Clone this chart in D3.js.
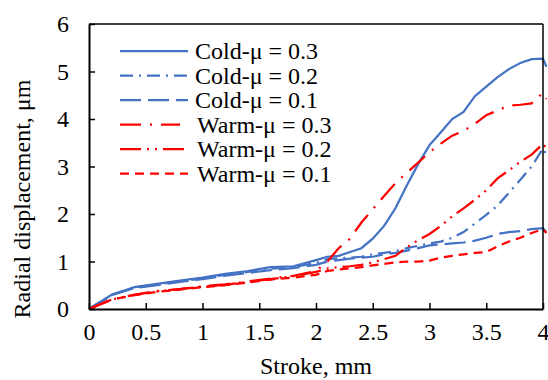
<!DOCTYPE html>
<html lang="en">
<head>
<meta charset="UTF-8">
<script src="https://d3js.org/d3.v7.min.js"></script>
<title>Radial displacement</title>
<style>
  body { margin: 0; background: #fff; }
  text { font-family: "Liberation Serif", "Times New Roman", serif; fill: #000; }
</style>
</head>
<body>
<svg id="chart" width="548" height="380"></svg>
<script>
// stroke positions (mm), shared by all series
var strokes = [0, 0.2, 0.4, 0.6, 0.8, 1.0, 1.2, 1.4, 1.6, 1.8, 2.0,
  2.1, 2.2, 2.3, 2.4, 2.5, 2.6, 2.7, 2.8, 2.9, 3.0,
  3.1, 3.2, 3.3, 3.4, 3.5, 3.6, 3.7, 3.8, 3.9, 4.0, 4.03];

// radial displacement (µm)
var cold03 = [0, 0.3, 0.46, 0.53, 0.6, 0.66, 0.74, 0.8, 0.88, 0.9, 1.03,
  1.1, 1.12, 1.2, 1.28, 1.48, 1.75, 2.12, 2.6, 3.05, 3.45,
  3.72, 4.0, 4.15, 4.48, 4.68, 4.88, 5.05, 5.18, 5.26, 5.27, 5.1];
var cold02 = [0, 0.3, 0.45, 0.52, 0.58, 0.64, 0.72, 0.78, 0.85, 0.88, 0.97,
  1.05, 1.07, 1.08, 1.1, 1.15, 1.18, 1.22, 1.28, 1.33, 1.38,
  1.42, 1.5, 1.62, 1.8, 1.98, 2.18, 2.45, 2.72, 3.0, 3.38, 3.25];
var cold01 = [0, 0.29, 0.44, 0.5, 0.57, 0.63, 0.7, 0.76, 0.82, 0.86, 0.93,
  1.0, 1.03, 1.06, 1.08, 1.1, 1.15, 1.18, 1.23, 1.28, 1.34,
  1.36, 1.38, 1.4, 1.44, 1.5, 1.58, 1.62, 1.64, 1.68, 1.7, 1.62];
var warm03 = [0, 0.2, 0.3, 0.38, 0.42, 0.48, 0.52, 0.58, 0.64, 0.7, 0.8,
  1.0, 1.28, 1.48, 1.82, 2.1, 2.38, 2.65, 2.87, 3.08, 3.3,
  3.48, 3.65, 3.75, 3.9, 4.08, 4.18, 4.28, 4.3, 4.33, 4.55, 4.42];
var warm02 = [0, 0.2, 0.3, 0.37, 0.42, 0.47, 0.51, 0.57, 0.63, 0.69, 0.78,
  0.85, 0.88, 0.9, 0.93, 0.98, 1.05, 1.12, 1.3, 1.45, 1.58,
  1.75, 1.95, 2.12, 2.3, 2.5, 2.75, 2.92, 3.1, 3.25, 3.48, 3.38];
var warm01 = [0, 0.2, 0.29, 0.36, 0.41, 0.46, 0.5, 0.56, 0.62, 0.66, 0.72,
  0.8, 0.83, 0.86, 0.88, 0.92, 0.95, 0.98, 1.0, 1.0, 1.02,
  1.08, 1.12, 1.15, 1.18, 1.2, 1.32, 1.42, 1.5, 1.6, 1.68, 1.6];

var seriesNames = ["Cold-\u03bc = 0.3", "Cold-\u03bc = 0.2", "Cold-\u03bc = 0.1",
  "Warm-\u03bc = 0.3", "Warm-\u03bc = 0.2", "Warm-\u03bc = 0.1"];
var seriesValues = [cold03, cold02, cold01, warm03, warm02, warm01];
var xTicks = [0, 0.5, 1, 1.5, 2, 2.5, 3, 3.5, 4];
var yTicks = [0, 1, 2, 3, 4, 5, 6];

var blue = "#4472C4", red = "#FF0000";
var styles = [
  { color: blue, dash: null },
  { color: blue, dash: "13,6,2,6" },
  { color: blue, dash: "21,7" },
  { color: red, dash: "21,9,2,9" },
  { color: red, dash: "21,6,2,6,2,6" },
  { color: red, dash: "9,6" }
];

// plot area edges in pixels
var plotL = 89, plotR = 543, plotT = 24, plotB = 309;

var x = d3.scaleLinear().domain([0, 4]).range([plotL, plotR]);
var y = d3.scaleLinear().domain([0, 6]).range([plotB, plotT]);

var svg = d3.select("#chart");

// data lines
var line = d3.line()
  .x(function (d, i) { return x(strokes[i]); })
  .y(function (d) { return y(d); });

svg.selectAll(".series")
  .data(seriesValues)
  .enter().append("path")
  .attr("class", "series")
  .attr("d", line)
  .attr("fill", "none")
  .attr("stroke", function (d, i) { return styles[i].color; })
  .attr("stroke-width", 2.25)
  .attr("stroke-dasharray", function (d, i) { return styles[i].dash; });

// frame
svg.append("line").attr("x1", plotL).attr("x2", plotR).attr("y1", plotT).attr("y2", plotT)
  .attr("stroke", "#000").attr("stroke-width", 1.5);
svg.append("line").attr("x1", plotR).attr("x2", plotR).attr("y1", plotT).attr("y2", plotB)
  .attr("stroke", "#000").attr("stroke-width", 1.5);

// axes with inward ticks
var xAxis = d3.axisBottom(x).tickValues(xTicks).tickSizeInner(-6).tickSizeOuter(0)
  .tickPadding(14).tickFormat(d3.format("~g"));
var yAxis = d3.axisLeft(y).tickValues(yTicks).tickSizeInner(-6).tickSizeOuter(0)
  .tickPadding(20).tickFormat(d3.format("d"));

var gx = svg.append("g").attr("transform", "translate(0," + plotB + ")").call(xAxis);
var gy = svg.append("g").attr("transform", "translate(" + plotL + ",0)").call(yAxis);

[gx, gy].forEach(function (g) {
  g.attr("font-family", null).attr("font-size", null);
  g.select(".domain").attr("stroke", "#000").attr("stroke-width", 2);
  g.selectAll(".tick line").attr("stroke", "#000").attr("stroke-width", 1.5);
  g.selectAll(".tick text").style("font-size", "24px").attr("fill", "#000");
});

// axis titles
svg.append("text")
  .attr("x", (plotL + plotR) / 2).attr("y", 374)
  .attr("text-anchor", "middle").style("font-size", "24px")
  .text("Stroke, mm");

svg.append("text")
  .attr("transform", "translate(30,199) rotate(-90)")
  .attr("text-anchor", "middle").style("font-size", "24px")
  .text("Radial displacement, \u03bcm");

// legend
var legend = svg.append("g").selectAll("g")
  .data(seriesNames)
  .enter().append("g")
  .attr("transform", function (d, i) { return "translate(0," + (51 + i * 24.5) + ")"; });

legend.append("line")
  .attr("x1", 120)
  .attr("x2", function (d, i) { return i === 3 ? 180 : 188; })
  .attr("y1", 0).attr("y2", 0)
  .attr("stroke", function (d, i) { return styles[i].color; })
  .attr("stroke-width", 2.25)
  .attr("stroke-dasharray", function (d, i) { return styles[i].dash; });

legend.append("text")
  .attr("x", function (d, i) { return i < 3 ? 195 : 197; })
  .attr("y", 8)
  .style("font-size", "24px")
  .text(function (d) { return d; });
</script>
</body>
</html>
